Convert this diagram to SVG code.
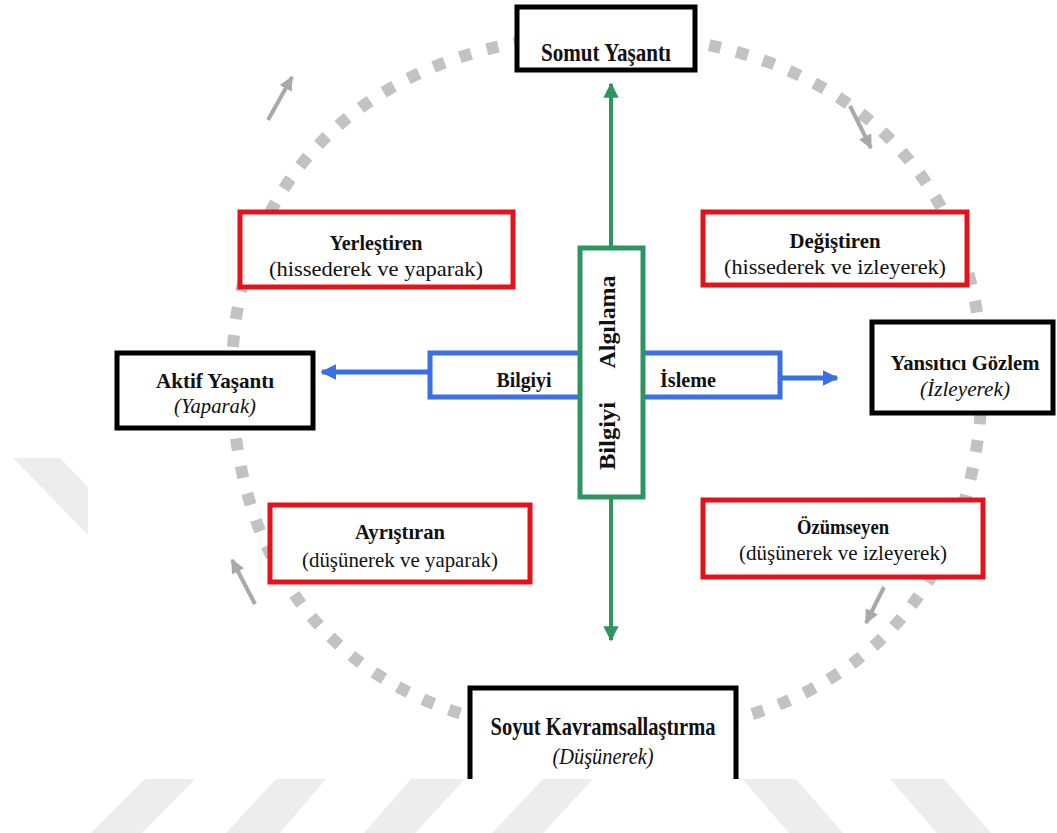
<svg xmlns="http://www.w3.org/2000/svg" width="1057" height="833" viewBox="0 0 1057 833">
<style>
.bg{fill:#ffffff}
.wm{fill:#ededed}
.cycle{fill:none;stroke:#c2c2c2;stroke-width:12;stroke-dasharray:12 16}
.garrow{fill:none;stroke:#a9a9a9;stroke-width:4}
.blk{fill:#ffffff;stroke:#000000;stroke-width:5}
.red{fill:#ffffff;stroke:#e3131b;stroke-width:5}
.grn{fill:#ffffff;stroke:#2e9460;stroke-width:5}
.blu{fill:#ffffff;stroke:#3b6fe6;stroke-width:5}
.gline{fill:none;stroke:#2e9460;stroke-width:4}
.bline{fill:none;stroke:#3b6fe6;stroke-width:5}
text{font-family:"Liberation Serif","Times New Roman",serif;fill:#111111;text-anchor:middle}
.t{font-weight:bold;font-size:22px}
.s{font-size:22px}
.i{font-style:italic;font-size:21px}
</style>
<defs>
<marker id="ag" viewBox="0 0 10 10" refX="9" refY="5" markerWidth="4.2" markerHeight="3.8" orient="auto" markerUnits="strokeWidth"><path d="M0,0 L10,5 L0,10 z" fill="#2e9460"/></marker>
<marker id="ab" viewBox="0 0 10 10" refX="9" refY="5" markerWidth="3.2" markerHeight="3.2" orient="auto" markerUnits="strokeWidth" preserveAspectRatio="none"><path d="M0,0 L10,5 L0,10 z" fill="#3b6fe6"/></marker>
<marker id="ay" viewBox="0 0 10 10" refX="9" refY="5" markerWidth="3.6" markerHeight="3.4" orient="auto" markerUnits="strokeWidth" preserveAspectRatio="none"><path d="M0,0 L10,5 L0,10 z" fill="#a9a9a9"/></marker>
</defs>
<rect class="bg" x="0" y="0" width="1057" height="833"/>

<g id="watermark">
<polygon class="wm" points="13,458 60,458 88,487 88,535"/>
<polygon class="wm" points="91,833 142,833 195,779 145,779"/>
<polygon class="wm" points="226,833 280,833 326,779 276,779"/>
<polygon class="wm" points="364,833 415,833 465,779 411,779"/>
<polygon class="wm" points="492,833 543,833 593,779 543,779"/>
<polygon class="wm" points="742,779 796,779 843,833 789,833"/>
<polygon class="wm" points="890,779 944,779 991,833 937,833"/>
</g>

<g id="cycle">
<path class="cycle" d="M232,375 C232,171 382,35 607,35 C832,35 982,171 982,375 C982,598 840,735 607,735 C374,735 232,598 232,375 Z"/>
<line class="garrow" x1="268" y1="120" x2="292" y2="77" marker-end="url(#ay)"/>
<line class="garrow" x1="850" y1="106" x2="871" y2="148" marker-end="url(#ay)"/>
<line class="garrow" x1="884" y1="587" x2="866" y2="623" marker-end="url(#ay)"/>
<line class="garrow" x1="255" y1="604" x2="232" y2="560" marker-end="url(#ay)"/>
</g>

<g id="connectors">
<line class="gline" x1="611" y1="248" x2="611" y2="84" marker-end="url(#ag)"/>
<line class="gline" x1="611" y1="497" x2="611" y2="640" marker-end="url(#ag)"/>
<line class="bline" x1="430" y1="372" x2="322" y2="372" marker-end="url(#ab)"/>
<line class="bline" x1="780" y1="378" x2="837" y2="378" marker-end="url(#ab)"/>
</g>

<g id="bilgi-isleme">
<rect class="blu" x="430" y="353" width="350" height="44"/>
<text class="t" x="524" y="387" style="font-size:22px" textLength="55" lengthAdjust="spacingAndGlyphs">Bilgiyi</text>
<text class="t" x="688" y="387" style="font-size:22px" textLength="56" lengthAdjust="spacingAndGlyphs">İsleme</text>
</g>

<g id="bilgi-algilama">
<rect class="grn" x="580" y="248" width="63" height="249"/>
<text class="t" transform="translate(615,322) rotate(-90)" x="0" y="0" style="font-size:24px" textLength="93" lengthAdjust="spacingAndGlyphs">Algılama</text>
<text class="t" transform="translate(615,436) rotate(-90)" x="0" y="0" style="font-size:24px" textLength="68" lengthAdjust="spacingAndGlyphs">Bilgiyi</text>
</g>

<g id="somut">
<rect class="blk" x="517" y="7" width="178" height="63"/>
<text class="t" x="606" y="61" style="font-size:26px" textLength="130" lengthAdjust="spacingAndGlyphs">Somut Yaşantı</text>
</g>

<g id="aktif">
<rect class="blk" x="117" y="353" width="196" height="75"/>
<text class="t" x="215" y="388" style="font-size:22px" textLength="118" lengthAdjust="spacingAndGlyphs">Aktif Yaşantı</text>
<text class="i" x="215" y="413" style="font-size:22px" textLength="82" lengthAdjust="spacingAndGlyphs">(Yaparak)</text>
</g>

<g id="yansitici">
<rect class="blk" x="872" y="322" width="181" height="91"/>
<text class="t" x="965" y="370" style="font-size:22px" textLength="149" lengthAdjust="spacingAndGlyphs">Yansıtıcı Gözlem</text>
<text class="i" x="965" y="396" style="font-size:22px" textLength="90" lengthAdjust="spacingAndGlyphs">(İzleyerek)</text>
</g>

<g id="soyut">
<path d="M470,779 L470,688 L736,688 L736,779" fill="#ffffff" stroke="#000000" stroke-width="5"/>
<text class="t" x="603" y="735" style="font-size:25px" textLength="225" lengthAdjust="spacingAndGlyphs">Soyut Kavramsallaştırma</text>
<text class="i" x="603" y="764" style="font-size:23px" textLength="101" lengthAdjust="spacingAndGlyphs">(Düşünerek)</text>
</g>

<g id="yerlestiren">
<rect class="red" x="240" y="212" width="273" height="75"/>
<text class="t" x="376" y="250" textLength="93" lengthAdjust="spacingAndGlyphs">Yerleştiren</text>
<text class="s" x="376" y="276" textLength="214" lengthAdjust="spacingAndGlyphs">(hissederek ve yaparak)</text>
</g>

<g id="degistiren">
<rect class="red" x="703" y="212" width="264" height="73"/>
<text class="t" x="835" y="248" textLength="91" lengthAdjust="spacingAndGlyphs">Değiştiren</text>
<text class="s" x="835" y="274" textLength="222" lengthAdjust="spacingAndGlyphs">(hissederek ve izleyerek)</text>
</g>

<g id="ayristiran">
<rect class="red" x="270" y="505" width="260" height="77"/>
<text class="t" x="400" y="539" textLength="90" lengthAdjust="spacingAndGlyphs">Ayrıştıran</text>
<text class="s" x="400" y="567" textLength="196" lengthAdjust="spacingAndGlyphs">(düşünerek ve yaparak)</text>
</g>

<g id="ozumseyen">
<rect class="red" x="703" y="500" width="280" height="77"/>
<text class="t" x="843" y="534" textLength="92" lengthAdjust="spacingAndGlyphs">Özümseyen</text>
<text class="s" x="843" y="560" textLength="208" lengthAdjust="spacingAndGlyphs">(düşünerek ve izleyerek)</text>
</g>
</svg>
